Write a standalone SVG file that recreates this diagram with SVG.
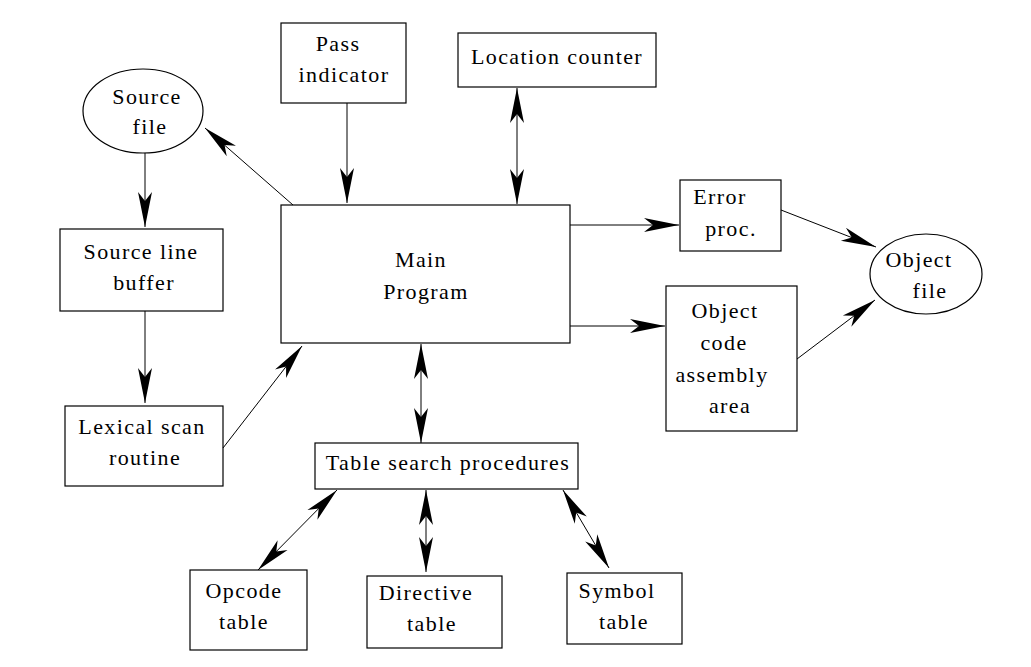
<svg xmlns="http://www.w3.org/2000/svg" width="1031" height="667" viewBox="0 0 1031 667">
<style>
.n{fill:#fff;stroke:#000;stroke-width:1.2}
.t{font-family:"Liberation Serif","Times New Roman",serif;font-size:22px;letter-spacing:1.4px;fill:#000;text-anchor:middle}
.c{stroke:#000;stroke-width:1;fill:none}
.a{marker-end:url(#h)}
.d{marker-start:url(#h);marker-end:url(#h)}
</style>
<defs>
<marker id="h" markerUnits="userSpaceOnUse" viewBox="-38 -8 39 16" refX="0" refY="0" markerWidth="39" markerHeight="16" orient="auto-start-reverse">
<path d="M0,0 L-35,-7 L-26,0 L-35,7 Z" fill="#000"/>
</marker>
</defs>
<rect width="1031" height="667" fill="#fff"/>
<g id="source-file"><ellipse class="n" cx="143" cy="111" rx="60" ry="42"/><text class="t" x="147" y="104">Source</text><text class="t" x="150" y="134">file</text></g>
<g id="pass-indicator"><rect class="n" x="281" y="23" width="125" height="80"/><text class="t" x="338" y="51">Pass</text><text class="t" x="344" y="82">indicator</text></g>
<g id="location-counter"><rect class="n" x="458" y="33" width="198" height="54"/><text class="t" x="557" y="64">Location counter</text></g>
<g id="main-program"><rect class="n" x="281" y="205" width="289" height="138"/><text class="t" x="421" y="267">Main</text><text class="t" x="426" y="299">Program</text></g>
<g id="source-line-buffer"><rect class="n" x="60" y="229" width="163" height="82"/><text class="t" x="141" y="259">Source line</text><text class="t" x="144" y="290">buffer</text></g>
<g id="lexical-scan"><rect class="n" x="65" y="406" width="158" height="80"/><text class="t" x="142" y="434">Lexical scan</text><text class="t" x="145" y="465">routine</text></g>
<g id="error-proc"><rect class="n" x="680" y="180" width="101" height="71"/><text class="t" x="720" y="204">Error</text><text class="t" x="731" y="236">proc.</text></g>
<g id="object-code"><rect class="n" x="666" y="286" width="131" height="145"/><text class="t" x="725" y="318">Object</text><text class="t" x="724" y="350">code</text><text class="t" x="722" y="382">assembly</text><text class="t" x="730" y="413">area</text></g>
<g id="object-file"><ellipse class="n" cx="926" cy="274" rx="56" ry="40"/><text class="t" x="919" y="267">Object</text><text class="t" x="930" y="298">file</text></g>
<g id="table-search"><rect class="n" x="315" y="443" width="263" height="46"/><text class="t" x="448" y="470">Table search procedures</text></g>
<g id="opcode-table"><rect class="n" x="190" y="570" width="117" height="80"/><text class="t" x="244" y="598">Opcode</text><text class="t" x="244" y="629">table</text></g>
<g id="directive-table"><rect class="n" x="367" y="576" width="135" height="72"/><text class="t" x="426" y="600">Directive</text><text class="t" x="432" y="631">table</text></g>
<g id="symbol-table"><rect class="n" x="567" y="573" width="115" height="71"/><text class="t" x="617" y="598">Symbol</text><text class="t" x="624" y="629">table</text></g>
<g id="connectors">
<line class="c a" x1="293" y1="205" x2="205" y2="128"/>
<line class="c a" x1="145" y1="153" x2="145" y2="227"/>
<line class="c a" x1="145" y1="311" x2="145" y2="403"/>
<line class="c a" x1="223" y1="448" x2="302" y2="346"/>
<line class="c a" x1="347" y1="103" x2="347" y2="203"/>
<line class="c d" x1="517" y1="88" x2="517" y2="204"/>
<line class="c a" x1="570" y1="225" x2="679" y2="225"/>
<line class="c a" x1="570" y1="326" x2="665" y2="326"/>
<line class="c a" x1="781" y1="210" x2="876" y2="247"/>
<line class="c a" x1="797" y1="359" x2="875" y2="300"/>
<line class="c d" x1="421" y1="344" x2="421" y2="443"/>
<line class="c d" x1="337" y1="490" x2="258" y2="570"/>
<line class="c d" x1="426" y1="490" x2="426" y2="572"/>
<line class="c d" x1="563" y1="490" x2="609" y2="568"/>
</g>
</svg>
